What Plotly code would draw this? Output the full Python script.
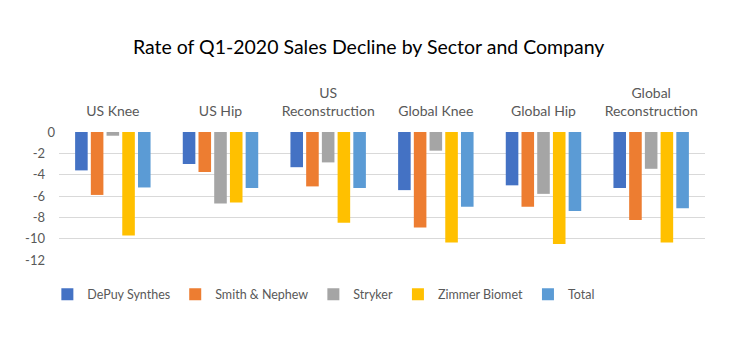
import plotly.graph_objects as go

categories = ["US Knee", "US Hip", "US<br>Reconstruction", "Global Knee", "Global Hip", "Global<br>Reconstruction"]
series_names = ["DePuy Synthes", "Smith & Nephew", "Stryker", "Zimmer Biomet", "Total"]
depuy = [-3.6, -3.0, -3.3, -5.45, -5.0, -5.25]
smith = [-5.9, -3.75, -5.1, -8.95, -7.0, -8.25]
stryker = [-0.35, -6.7, -2.85, -1.75, -5.8, -3.45]
zimmer = [-9.7, -6.6, -8.5, -10.35, -10.5, -10.35]
total = [-5.2, -5.25, -5.25, -7.0, -7.4, -7.15]
y_ticks = [0, -2, -4, -6, -8, -10, -12]

colors = ["#4472C4", "#ED7D31", "#A5A5A5", "#FFC000", "#5B9BD5"]
values = [depuy, smith, stryker, zimmer, total]

fig = go.Figure()
for name, vals, col in zip(series_names, values, colors):
    fig.add_trace(go.Bar(name=name, x=categories, y=vals, marker=dict(color=col, line=dict(width=0))))

y_text = [str(v) if v == 0 else str(v) + "&nbsp;&nbsp;&nbsp;" for v in y_ticks]

font_family = "Lato, Open Sans, sans-serif"
fig.update_layout(
    width=730, height=350,
    margin=dict(l=59, r=25, t=132, b=90),
    paper_bgcolor="white", plot_bgcolor="white",
    barmode="group", bargap=0.27, bargroupgap=0.2,
    font=dict(family=font_family, size=13, color="#595959"),
    title=dict(text="Rate of Q1-2020 Sales Decline by Sector and Company",
               x=0.505, xanchor="center", y=1 - 47 / 350, yanchor="middle", yref="container",
               font=dict(size=19.5, color="#000000", family=font_family)),
    xaxis=dict(side="top", showline=False, ticks="", showgrid=False, zeroline=False,
               tickfont=dict(size=14, color="#595959"), ticklabelstandoff=12),
    yaxis=dict(range=[-12, 0], tickvals=y_ticks, ticktext=y_text,
               showgrid=True, gridcolor="#D9D9D9", gridwidth=1, zeroline=False,
               showline=False, ticks="", tickfont=dict(size=13, color="#595959"), ticklabelstandoff=3),
    legend=dict(orientation="h", x=0.41, xanchor="center", y=-0.27, yanchor="middle",
                font=dict(size=12.5, color="#595959"), itemwidth=30, traceorder="normal"),
)

fig.write_html("out.html")
